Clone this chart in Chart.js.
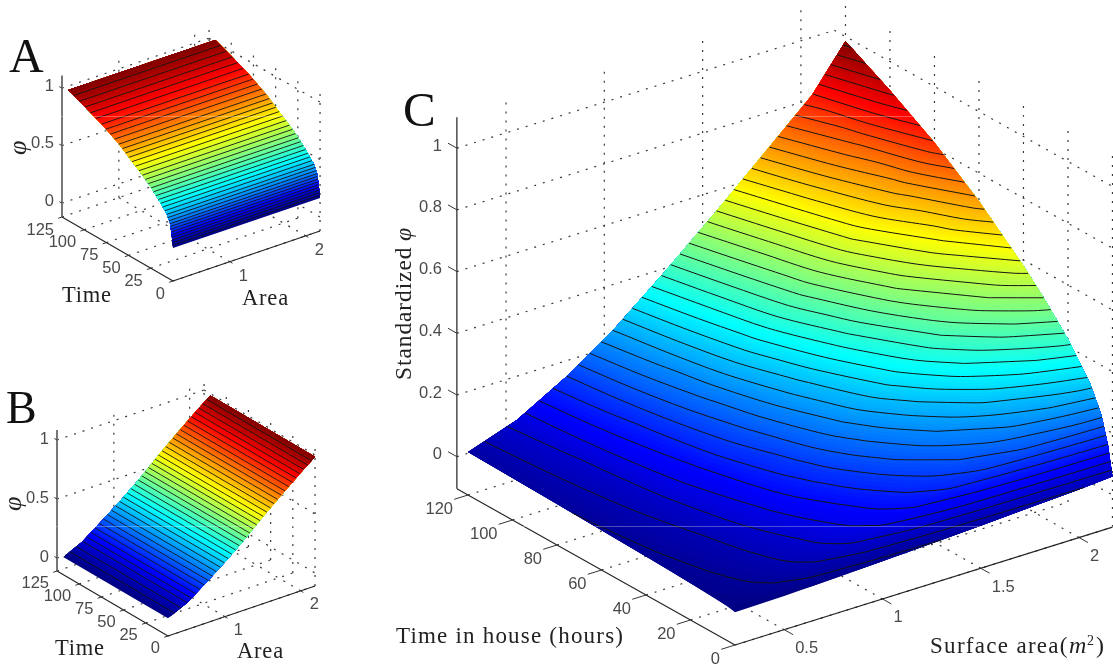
<!DOCTYPE html>
<html>
<head>
<meta charset="utf-8">
<title>phi surfaces</title>
<script src="https://cdn.jsdelivr.net/npm/chart.js@4"></script>
<style>
	html, body { margin: 0; padding: 0; background: #fff; overflow: hidden; }
	canvas { display: block; }
</style>
</head>
<body>
<canvas id="chart" width="1113" height="664"></canvas>
<script>
// panel A: phi only moves with time
const time_a = [0, 1.5, 3.5, 7, 15, 25, 35, 45, 60, 80, 100, 118];
const phi_a = [0.167, 0.275, 0.37, 0.43, 0.505, 0.585, 0.65, 0.705, 0.795, 0.885, 0.955, 1.016];
const area_a = [0.25, 2.19];

// panel B: phi only moves with area
const area_b = [0.25, 0.5, 0.75, 1, 1.25, 1.5, 1.75, 2, 2.19];
const phi_b = [0.04, 0.115, 0.23, 0.35, 0.48, 0.625, 0.76, 0.89, 0.985];
const time_b = [0, 118];

// panel C: rows are time, columns are area
const time_c = [0, 2, 5, 10, 20, 30, 40, 60, 80, 100, 120];
const area_c = [0.25, 0.5, 0.75, 1, 1.25, 1.5, 1.75, 2, 2.17];
const phi_c = [
	[0.002, 0.005, 0.011, 0.018, 0.026, 0.034, 0.043, 0.052, 0.060],
	[0.005, 0.017, 0.036, 0.060, 0.088, 0.112, 0.130, 0.145, 0.153],
	[0.009, 0.028, 0.058, 0.096, 0.136, 0.172, 0.202, 0.226, 0.240],
	[0.011, 0.035, 0.072, 0.114, 0.160, 0.206, 0.250, 0.290, 0.320],
	[0.015, 0.043, 0.085, 0.135, 0.194, 0.257, 0.319, 0.381, 0.424],
	[0.018, 0.049, 0.098, 0.157, 0.227, 0.301, 0.382, 0.457, 0.507],
	[0.021, 0.055, 0.109, 0.176, 0.258, 0.345, 0.434, 0.518, 0.581],
	[0.025, 0.066, 0.131, 0.211, 0.305, 0.409, 0.519, 0.620, 0.709],
	[0.029, 0.075, 0.149, 0.241, 0.352, 0.471, 0.593, 0.707, 0.818],
	[0.032, 0.083, 0.166, 0.267, 0.386, 0.512, 0.644, 0.776, 0.906],
	[0.035, 0.090, 0.180, 0.290, 0.420, 0.557, 0.700, 0.844, 0.985]
];

const ticks_time_ab = [0, 25, 50, 75, 100, 125];
const ticks_area_ab = [1, 2];
const ticks_phi_ab = [0, 0.5, 1];
const ticks_time_c = [0, 20, 40, 60, 80, 100, 120];
const ticks_area_c = [0.5, 1, 1.5, 2];
const ticks_phi_c = [0, 0.2, 0.4, 0.6, 0.8, 1];

function jet(v){
	let c = (k)=>Math.round(255*Math.max(0, Math.min(1, 1.5-Math.abs(4*v-k))));
	return `rgb(${c(3)},${c(2)},${c(1)})`;
}

let panels = {
	a: {
		x0: 173, y0: 281, tx: -0.888, ty: -0.512, ax: 75.8, ay: -25.8, zu: 115, floor: -0.12, top: 1.11,
		amin: 0.25, amax: 2.19, tmax: 125, times: time_a, areas: area_a, table: phi_a.map(v=>[v, v]),
		step: 0.0218, tt: ticks_time_ab, ta: ticks_area_ab, tz: ticks_phi_ab, tick_t: 3, tick_a: 0.05,
		axis_color: '#777', axis_width: 2, line_width: 0.9, font: '16.5px "Liberation Sans"',
		z_right: 54, z_dy: -2, t_dx: -8, t_dy: 13, a_dx: 9, a_dy: 15
	},
	b: {
		x0: 168, y0: 636, tx: -0.888, ty: -0.52, ax: 75.8, ay: -25.8, zu: 118, floor: -0.11, top: 1.085,
		amin: 0.25, amax: 2.19, tmax: 125, times: time_b, areas: area_b, table: time_b.map(()=>phi_b),
		step: 0.0256, tt: ticks_time_ab, ta: ticks_area_ab, tz: ticks_phi_ab, tick_t: 3, tick_a: 0.05,
		axis_color: '#777', axis_width: 2, line_width: 0.9, font: '16.5px "Liberation Sans"',
		z_right: 49, z_dy: -1, t_dx: -8, t_dy: 12, a_dx: 9, a_dy: 14
	},
	c: {
		x0: 735, y0: 645, tx: -2.225, ty: -1.25, ax: 196.6, ay: -61.4, zu: 308.5, floor: -0.104, top: 1.1,
		amin: 0.25, amax: 2.17, tmax: 125, times: time_c, areas: area_c, table: phi_c,
		step: 0.0256, tt: ticks_time_c, ta: ticks_area_c, tz: ticks_phi_c, tick_t: 4, tick_a: 0.07,
		axis_color: '#222', axis_width: 1.2, line_width: 1, font: '16.5px "Liberation Sans"',
		z_right: 442, z_dy: -2, t_dx: -15, t_dy: 14, a_dx: 11, a_dy: 19
	}
};

// panel coordinates to the page scale of the chart
function project(p, t, a, z){
	return {
		x: p.x0+p.tx*t+p.ax*(a-p.amin),
		y: p.y0+p.ty*t+p.ay*(a-p.amin)-p.zu*(z-p.floor)
	};
}

function surface_point(p, i, j){
	return project(p, p.times[i], p.areas[j], p.table[i][j]);
}

// crossings of one level on the lines of the table, low area first
function iso_points(p, level){
	let found = [];
	let m = p.table;
	for (let i = 0; i < p.times.length; i++){
		for (let j = 0; j < p.areas.length; j++){
			if (i+1 < p.times.length && m[i][j] < level && m[i+1][j] >= level){
				let k = (level-m[i][j])/(m[i+1][j]-m[i][j]);
				found.push({t: p.times[i]+k*(p.times[i+1]-p.times[i]), a: p.areas[j]});
			}
			if (j+1 < p.areas.length && m[i][j] < level && m[i][j+1] >= level){
				let k = (level-m[i][j])/(m[i][j+1]-m[i][j]);
				found.push({t: p.times[i], a: p.areas[j]+k*(p.areas[j+1]-p.areas[j])});
			}
		}
	}
	found.sort((u, v)=>(u.a-v.a) || (v.t-u.t));
	return found.map((q)=>project(p, q.t, q.a, level));
}

// part of the surface at or above a level, as a closed outline
function region_outline(p, level){
	let n = p.times.length-1;
	let w = p.areas.length-1;
	let nodes = [];
	for (let j = 0; j <= w; j++) nodes.push([0, j]);
	for (let i = 1; i <= n; i++) nodes.push([i, w]);
	for (let j = w-1; j >= 0; j--) nodes.push([n, j]);
	for (let i = n-1; i > 0; i--) nodes.push([i, 0]);
	let kept = nodes.filter((q)=>p.table[q[0]][q[1]] >= level).map((q)=>surface_point(p, q[0], q[1]));
	return iso_points(p, level).concat(kept);
}

function seg(points, color, width, dash){
	return {
		data: points, showLine: true, fill: false, pointRadius: 0,
		borderColor: color, borderWidth: width, borderDash: dash || [], tension: 0
	};
}

function grid_datasets(p){
	let out = [];
	let dots = [2, 7];
	let dot_color = '#3a3a3a';
	p.tz.forEach((z)=>{
		out.push(seg([project(p, p.tmax, p.amin, z), project(p, p.tmax, p.amax, z)], dot_color, 1.2, dots));
		out.push(seg([project(p, p.tmax, p.amax, z), project(p, 0, p.amax, z)], dot_color, 1.2, dots));
	});
	p.ta.forEach((a)=>{
		out.push(seg([project(p, p.tmax, a, p.floor), project(p, p.tmax, a, p.top)], dot_color, 1.2, dots));
		out.push(seg([project(p, 0, a, p.floor), project(p, p.tmax, a, p.floor)], dot_color, 1.2, dots));
	});
	p.tt.forEach((t)=>{
		out.push(seg([project(p, t, p.amax, p.floor), project(p, t, p.amax, p.top)], dot_color, 1.2, dots));
		out.push(seg([project(p, t, p.amin, p.floor), project(p, t, p.amax, p.floor)], dot_color, 1.2, dots));
	});
	return out;
}

function axis_datasets(p){
	let out = [];
	out.push(seg([project(p, p.tmax, p.amin, p.floor), project(p, p.tmax, p.amin, p.top)], p.axis_color, p.axis_width));
	out.push(seg([project(p, p.tmax, p.amin, p.floor), project(p, 0, p.amin, p.floor)], '#222', 1.1));
	out.push(seg([project(p, 0, p.amin, p.floor), project(p, 0, p.amax, p.floor)], '#222', 1.1));
	p.tt.forEach((t)=>{
		out.push(seg([project(p, t, p.amin, p.floor), project(p, t, p.amin-p.tick_a, p.floor)], '#333', 1));
	});
	p.ta.forEach((a)=>{
		out.push(seg([project(p, 0, a, p.floor), project(p, -p.tick_t, a, p.floor)], '#333', 1));
	});
	p.tz.forEach((z)=>{
		out.push(seg([project(p, p.tmax, p.amin, z), project(p, p.tmax+p.tick_t, p.amin, z)], '#333', 1));
	});
	return out;
}

function surface_datasets(p){
	let all = p.table.flat();
	let lo = Math.min(...all);
	let hi = Math.max(...all);
	let out = [];
	// fine steps for the shading, every fourth one carries a contour
	let fine = p.step/4;
	let count = Math.floor((hi-lo)/fine);
	for (let k = 0; k <= count; k++){
		let level = lo+k*fine;
		out.push({
			data: region_outline(p, level), showLine: true, fill: 'shape', pointRadius: 0,
			backgroundColor: jet((level+fine/2-lo)/(hi-lo)), borderColor: 'transparent', borderWidth: 0, tension: 0
		});
	}
	for (let k = 4; k <= count; k += 4){
		let line = seg(iso_points(p, lo+k*fine), '#151515', p.line_width);
		line.tension = 0.3;
		out.push(line);
	}
	return out;
}

// faint scan seams that cross the coloured surfaces
const seam_rows = [116.5, 526.5];

let datasets = [];
for (let key of ['a', 'b', 'c']){
	let p = panels[key];
	datasets = datasets.concat(grid_datasets(p), axis_datasets(p), surface_datasets(p));
}
seam_rows.forEach((y)=>{
	datasets.push(seg([{x: 0, y: y}, {x: 1113, y: y}], 'rgba(255,255,255,0.3)', 1));
});

function put_text(ctx, text, x, y, font, color, align, spacing){
	ctx.font = font;
	ctx.fillStyle = color;
	ctx.textAlign = align || 'left';
	ctx.letterSpacing = spacing || '0px';
	ctx.fillText(text, x, y);
}

function put_turned(ctx, text, x, y, font, color, spacing){
	ctx.save();
	ctx.translate(x, y);
	ctx.rotate(-Math.PI/2);
	put_text(ctx, text, 0, 0, font, color, 'left', spacing);
	ctx.restore();
}

let tick_text = {
	id: 'tick_text',
	afterDraw: function(chart){
		let ctx = chart.ctx;
		let sx = chart.scales.x;
		let sy = chart.scales.y;
		ctx.save();
		ctx.textBaseline = 'middle';
		for (let key in panels){
			let p = panels[key];
			p.tz.forEach((z)=>{
				let q = project(p, p.tmax, p.amin, z);
				put_text(ctx, String(z), p.z_right, sy.getPixelForValue(q.y)+p.z_dy, p.font, '#4a4a4a', 'right');
			});
			p.tt.forEach((t)=>{
				let q = project(p, t, p.amin, p.floor);
				put_text(ctx, String(t), sx.getPixelForValue(q.x)+p.t_dx, sy.getPixelForValue(q.y)+p.t_dy, p.font, '#4a4a4a', 'right');
			});
			p.ta.forEach((a)=>{
				let q = project(p, 0, a, p.floor);
				put_text(ctx, String(a), sx.getPixelForValue(q.x)+p.a_dx, sy.getPixelForValue(q.y)+p.a_dy, p.font, '#4a4a4a', 'left');
			});
		}
		ctx.textBaseline = 'alphabetic';
		let serif = '"Liberation Serif"';
		put_text(ctx, 'A', 9, 72, `48px ${serif}`, '#111');
		put_text(ctx, 'B', 6, 423, `46px ${serif}`, '#111');
		put_text(ctx, 'C', 403, 126, `49px ${serif}`, '#111');
		put_text(ctx, 'Time', 62, 302, `22.5px ${serif}`, '#222', 'left', '0.8px');
		put_text(ctx, 'Area', 242, 305, `22.5px ${serif}`, '#222', 'left', '0.8px');
		put_text(ctx, 'Time', 55, 655, `22.5px ${serif}`, '#222', 'left', '0.8px');
		put_text(ctx, 'Area', 237, 658, `22.5px ${serif}`, '#222', 'left', '0.8px');
		put_text(ctx, 'Time in house (hours)', 396, 643, `23px ${serif}`, '#222', 'left', '1.2px');
		put_text(ctx, 'Surface area(', 930, 653, `23px ${serif}`, '#222', 'left', '1.3px');
		put_text(ctx, 'm', 1069, 653, `italic 24px ${serif}`, '#222');
		put_text(ctx, '2', 1087, 645, `14px ${serif}`, '#222');
		put_text(ctx, ')', 1096, 653, `24px ${serif}`, '#222');
		put_turned(ctx, 'Standardized ', 411, 380, `23.5px ${serif}`, '#222', '0.9px');
		put_turned(ctx, 'φ', 411, 241, `italic 24px ${serif}`, '#222');
		put_turned(ctx, 'φ', 26, 155, `italic 26px ${serif}`, '#222');
		put_turned(ctx, 'φ', 21, 511, `italic 26px ${serif}`, '#222');
		ctx.restore();
	}
};

window.onload = ()=>{
	new Chart('chart', {
		type: 'scatter',
		// first in the list is drawn last, the surfaces have to paint bottom up
		data: { datasets: datasets.reverse() },
		options: {
			responsive: false,
			animation: false,
			events: [],
			layout: { padding: 0 },
			scales: {
				x: { type: 'linear', min: 0, max: 1113, display: false },
				y: { type: 'linear', min: 0, max: 664, reverse: true, display: false }
			},
			plugins: {
				legend: { display: false },
				tooltip: { enabled: false },
				filler: { drawTime: 'beforeDatasetDraw', propagate: false }
			}
		},
		plugins: [tick_text]
	});
};
</script>
</body>
</html>
